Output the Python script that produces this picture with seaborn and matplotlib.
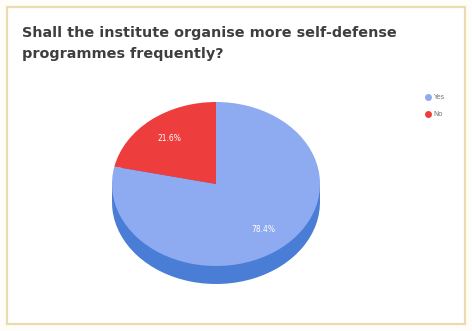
import matplotlib
matplotlib.use("Agg")
import matplotlib.pyplot as plt
from matplotlib.patches import Rectangle
from matplotlib.lines import Line2D
import seaborn as sns

# ---- data ----
categories = ["Yes", "No"]
values = [78.4, 21.6]
title = "Shall the institute organise more self-defense\nprogrammes frequently?"

sns.set_theme(style="white")
plt.rcParams["font.family"] = ["DejaVu Sans"]

top_colors = sns.color_palette(["#8eaaf0", "#ee3d3d"])
side_color = "#4a7ed6"

W, H = 472, 331
fig = plt.figure(figsize=(W / 100, H / 100), dpi=100, facecolor="#fffdf8")

# frame
frame = fig.add_axes([0, 0, 1, 1])
frame.set_xlim(0, W)
frame.set_ylim(H, 0)
frame.axis("off")
frame.add_patch(Rectangle((7, 7), W - 14, H - 14, facecolor="white",
                          edgecolor="#ecdab0", linewidth=1.6))

# pie geometry (pixels)
cx, cy, rx, ry, depth = 216, 184, 104, 82, 18
d = depth / ry
left = (cx - rx) / W
bottom = (H - (cy + ry + depth)) / H
ax = fig.add_axes([left, bottom, 2 * rx / W, (2 * ry + depth) / H])

total = sum(values)
start = 90 + 360 * values[1] / total

# side of the cylinder
ax.pie(values, colors=[side_color, side_color], startangle=start,
       center=(0, -d), radius=1, wedgeprops=dict(linewidth=0))
ax.add_patch(Rectangle((-1, -d), 2, d, facecolor=side_color, linewidth=0))
# top surface
wedges, texts, autotexts = ax.pie(
    values, colors=top_colors, startangle=start, center=(0, 0), radius=1,
    autopct="%.1f%%", pctdistance=0.72,
    wedgeprops=dict(linewidth=0),
    textprops=dict(color="white", fontsize=5.5))
ax.set_aspect("auto")
ax.set_xlim(-1, 1)
ax.set_ylim(-1 - d, 1)
ax.axis("off")

# title
fig.text(22 / W, 1 - 26 / H, title, ha="left", va="top", fontsize=10.4,
         fontweight="bold", color="#3e3e3e", linespacing=1.6)

# legend
handles = [Line2D([0], [0], marker="o", linestyle="", markersize=5,
                  markerfacecolor=c, markeredgewidth=0) for c in top_colors]
fig.legend(handles, categories, loc="upper left",
           bbox_to_anchor=(418 / W, 1 - 88 / H), frameon=False,
           fontsize=5, labelcolor="#777777", handletextpad=0.3,
           labelspacing=1.6, handlelength=1)

fig.savefig("out.png", dpi=100, facecolor=fig.get_facecolor())
